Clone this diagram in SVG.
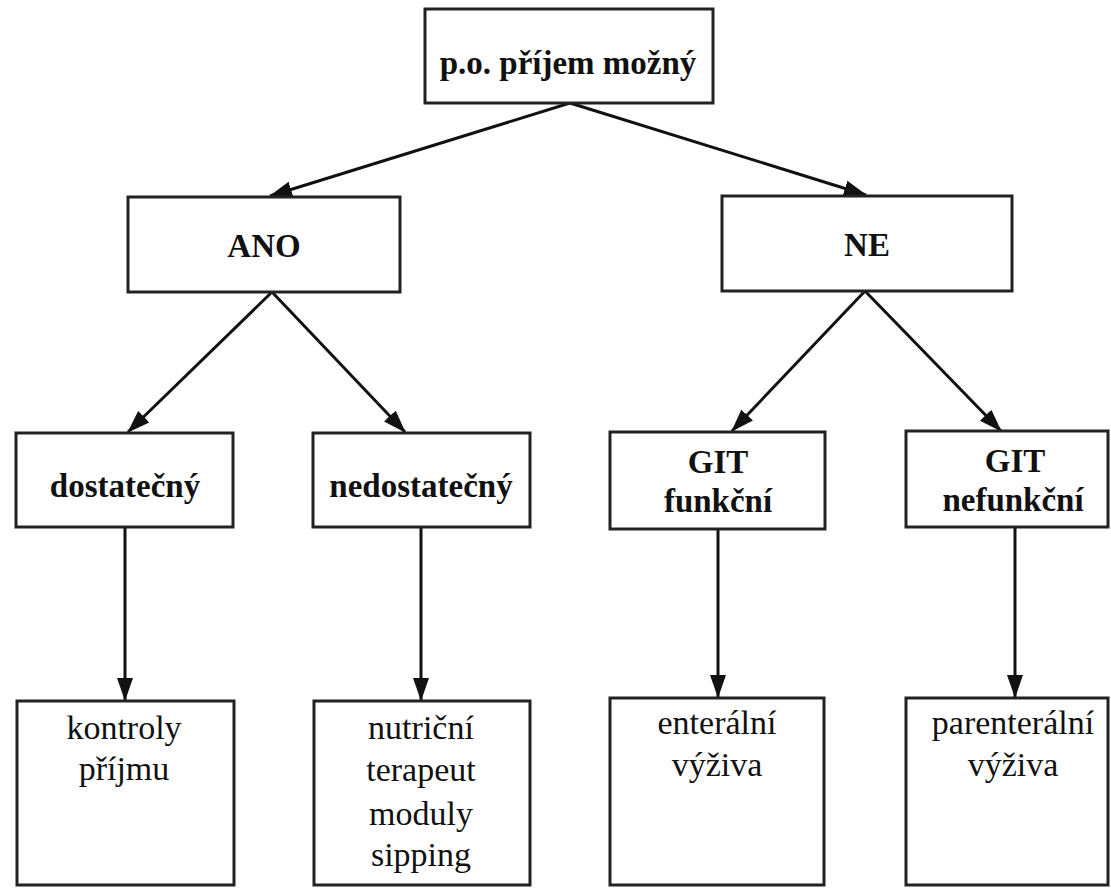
<svg xmlns="http://www.w3.org/2000/svg" width="1111" height="888" viewBox="0 0 1111 888">
<style>
.box{fill:#fff;stroke:#222;stroke-width:3}
text{font-family:'Liberation Serif','Times New Roman',Tinos,'DejaVu Serif',serif;fill:#111;text-anchor:middle;font-size:34px}
.b{font-weight:bold;font-size:33px}
.c{stroke:#111;stroke-width:3;fill:none;marker-end:url(#ah)}
</style>
<defs>
<marker id="ah" markerUnits="userSpaceOnUse" markerWidth="24" markerHeight="18" refX="22" refY="9" orient="auto">
<path d="M0,1 L23,9 L0,17 z" fill="#111"/>
</marker>
</defs>
<rect width="1111" height="888" fill="#fff"/>
<g id="connectors">
<line class="c" x1="570" y1="103" x2="270" y2="196"/>
<line class="c" x1="570" y1="103" x2="866" y2="195"/>
<line class="c" x1="272" y1="292" x2="128" y2="432"/>
<line class="c" x1="272" y1="292" x2="405" y2="432"/>
<line class="c" x1="865" y1="291" x2="732" y2="431"/>
<line class="c" x1="865" y1="291" x2="1001" y2="431"/>
<line class="c" x1="125" y1="527" x2="125" y2="700"/>
<line class="c" x1="421" y1="527" x2="421" y2="700"/>
<line class="c" x1="718" y1="529" x2="718" y2="697"/>
<line class="c" x1="1015" y1="527" x2="1015" y2="697"/>
</g>
<g id="root">
<rect class="box" x="425" y="9" width="288" height="94"/>
<text class="b" x="568" y="74">p.o. příjem možný</text>
</g>
<g id="ano">
<rect class="box" x="128" y="197" width="272" height="95"/>
<text class="b" x="264" y="257">ANO</text>
</g>
<g id="ne">
<rect class="box" x="722" y="196" width="290" height="95"/>
<text class="b" x="867" y="256">NE</text>
</g>
<g id="dostatecny">
<rect class="box" x="16" y="433" width="217" height="94"/>
<text class="b" x="125" y="497">dostatečný</text>
</g>
<g id="nedostatecny">
<rect class="box" x="313" y="433" width="217" height="94"/>
<text class="b" x="421" y="497">nedostatečný</text>
</g>
<g id="git-funkcni">
<rect class="box" x="610" y="432" width="215" height="97"/>
<text class="b" x="718" y="473">GIT</text>
<text class="b" x="718" y="512">funkční</text>
</g>
<g id="git-nefunkcni">
<rect class="box" x="906" y="431" width="202" height="96"/>
<text class="b" x="1015" y="472">GIT</text>
<text class="b" x="1013" y="511">nefunkční</text>
</g>
<g id="kontroly">
<rect class="box" x="17" y="701" width="217" height="184"/>
<text x="124" y="739">kontroly</text>
<text x="124" y="780">příjmu</text>
</g>
<g id="nutricni">
<rect class="box" x="314" y="701" width="216" height="184"/>
<text x="421" y="739">nutriční</text>
<text x="421" y="781">terapeut</text>
<text x="421" y="825">moduly</text>
<text x="421" y="866">sipping</text>
</g>
<g id="enteralni">
<rect class="box" x="610" y="698" width="214" height="187"/>
<text x="717" y="734">enterální</text>
<text x="717" y="776">výživa</text>
</g>
<g id="parenteralni">
<rect class="box" x="906" y="698" width="202" height="187"/>
<text x="1013" y="734">parenterální</text>
<text x="1013" y="776">výživa</text>
</g>
</svg>
